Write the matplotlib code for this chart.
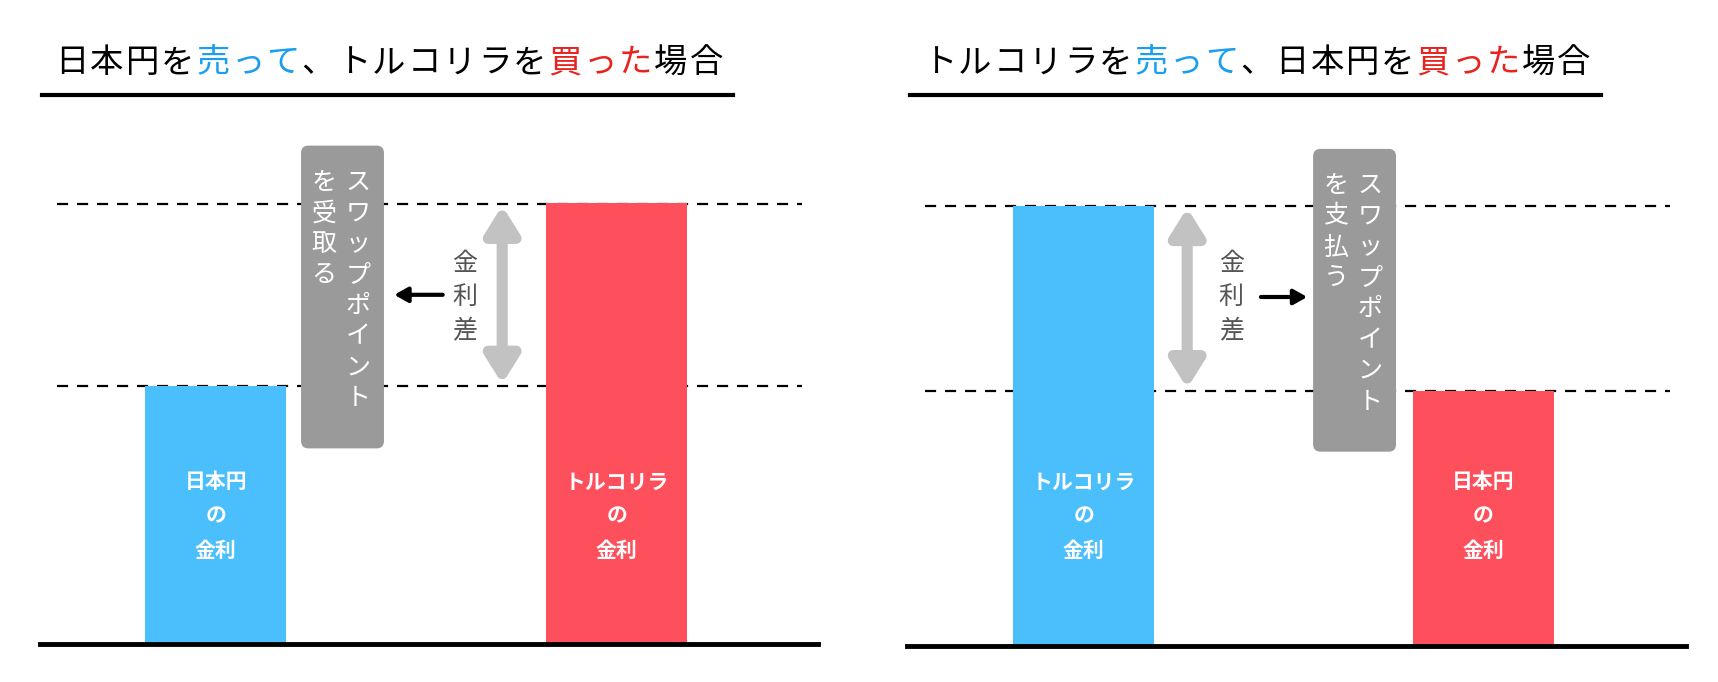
import matplotlib.pyplot as plt
from matplotlib.patches import FancyBboxPatch

plt.rcParams['font.family'] = ['Noto Sans CJK JP', 'DejaVu Sans']

# data
titles = [["日本円を", ("売って", "#1a9ff0"), "、トルコリラを", ("買った", "#e8231e"), "場合"],
          ["トルコリラを", ("売って", "#1a9ff0"), "、日本円を", ("買った", "#e8231e"), "場合"]]
bar_labels = [["日本円\nの\n金利", "トルコリラ\nの\n金利"],
              ["トルコリラ\nの\n金利", "日本円\nの\n金利"]]
bar_rates = [[0.585, 1.0], [1.0, 0.58]]
bar_colors = [["#4bbefc", "#fe505c"], ["#4bbefc", "#fe505c"]]
box_cols = [["スワップポイント", "を受取る"], ["スワップポイント", "を支払う"]]
arrow_dir = [-1, 1]

BLUE, RED, GRAY = "#4bbefc", "#fe505c", "#9a9a9a"

fig = plt.figure(figsize=(17.18, 6.82), dpi=100)
ax = fig.add_axes([0, 0, 1, 1])
ax.set_xlim(0, 1560)
ax.set_ylim(620, 0)
ax.axis('off')

FULL = 400  # px height of the higher rate bar
for p in range(2):
    ox = 0 if p == 0 else 788
    base = 585 if p == 0 else 587
    # title, one char at a time
    x = 50 + ox
    for part in titles[p]:
        txt, col = (part, "black") if isinstance(part, str) else part
        for ch in txt:
            ax.text(x, 57, ch, fontsize=24, color=col, ha='left', va='center')
            x += 32
    ax.plot([38 + ox, 666 + ox], [86, 86], color='black', lw=3)
    # bars
    xs = [196 + ox, 560 + ox] if p == 0 else [984 + ox - 788, 1347 + ox - 788]
    heights = [-r * FULL for r in bar_rates[p]]
    ax.bar(xs, heights, bottom=base, width=128, color=bar_colors[p], zorder=2)
    for xb, lab in zip(xs, bar_labels[p]):
        for i, line in enumerate(lab.split("\n")):
            ax.text(xb, 438 + i * 31, line, fontsize=15, color='white',
                    fontweight='bold', ha='center', va='center', zorder=3)
    # dashed levels
    lo = base - min(bar_rates[p]) * FULL
    hi = base - max(bar_rates[p]) * FULL
    for yy in (lo, hi):
        ax.plot([52 + ox, 728 + ox], [yy, yy], ls=(0, (5, 4)), color='black', lw=1.6, zorder=1)
    ax.plot([36 + ox, 743 + ox], [base, base], color='black', lw=3.5, zorder=4)
    # gray box
    bx = 274 if p == 0 else 1193
    by = 133 if p == 0 else 136
    ax.add_patch(FancyBboxPatch((bx + 6, by + 6), 62, 262,
                                boxstyle="round,pad=6", color=GRAY, zorder=2))
    for c, col in enumerate(box_cols[p]):
        cx = bx + 51 - c * 31
        for i, ch in enumerate(col):
            ax.text(cx, 166 + by - 133 + i * 28, ch, fontsize=18, color='white',
                    ha='center', va='center', zorder=3)
    # double arrow
    ax_x = 456 if p == 0 else 1078
    ax.annotate('', xy=(ax_x, hi + 2), xytext=(ax_x, lo - 2),
                arrowprops=dict(arrowstyle='<|-|>,head_length=1.6,head_width=1.0',
                                color='#c2c2c2', lw=8, shrinkA=0, shrinkB=0))
    tx = 422 if p == 0 else 1118
    for i, ch in enumerate("金利差"):
        ax.text(tx, 240 + i * 30, ch, fontsize=18, color='#555555', ha='center', va='center')
    # small black arrow
    if arrow_dir[p] < 0:
        ax.annotate('', xy=(358, 268), xytext=(402, 268),
                    arrowprops=dict(arrowstyle='-|>,head_length=0.8,head_width=0.45',
                                    color='black', lw=3, shrinkA=0, shrinkB=0))
    else:
        ax.annotate('', xy=(1187, 270), xytext=(1145, 270),
                    arrowprops=dict(arrowstyle='-|>,head_length=0.8,head_width=0.45',
                                    color='black', lw=3, shrinkA=0, shrinkB=0))

fig.savefig("out.png", dpi=100)
